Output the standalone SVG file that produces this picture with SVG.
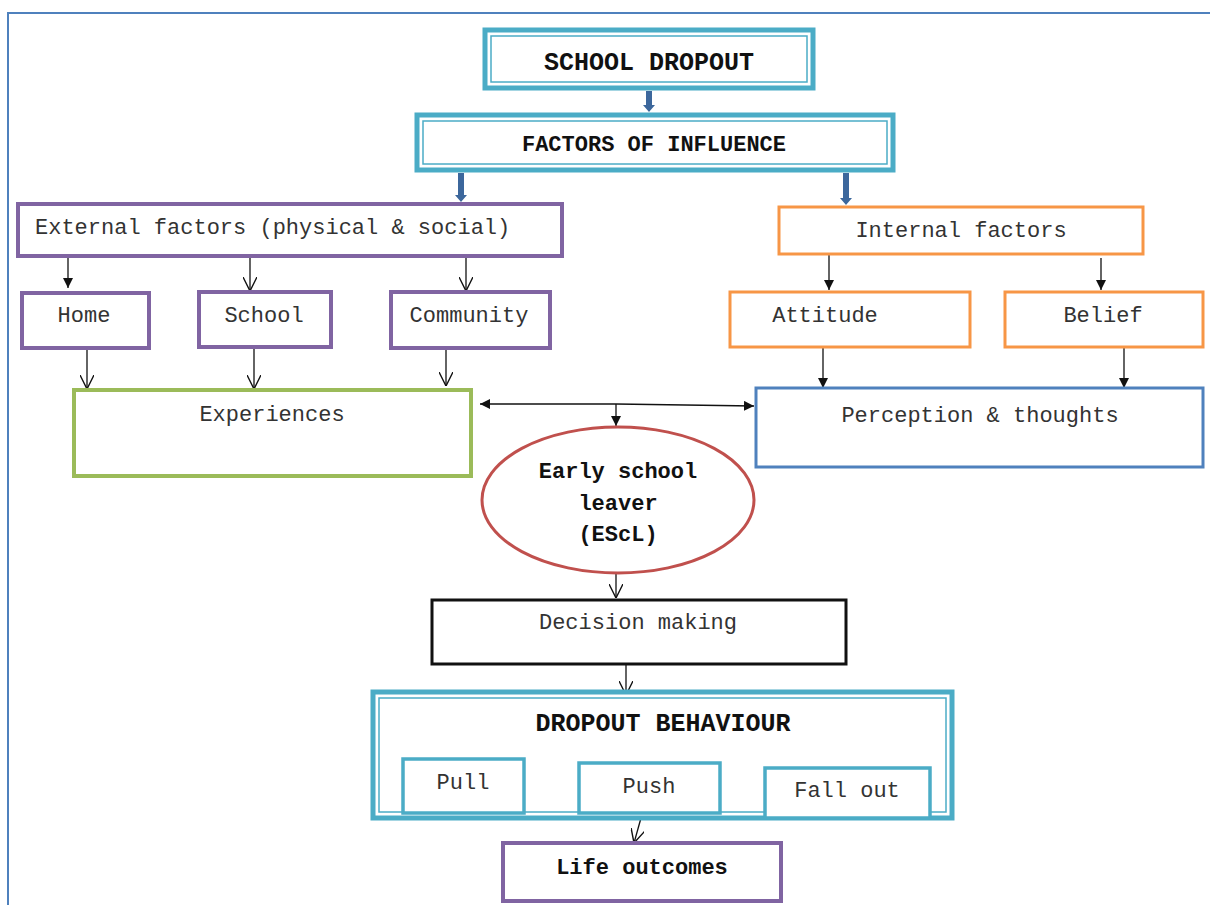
<svg xmlns="http://www.w3.org/2000/svg" width="1210" height="905" viewBox="0 0 1210 905">
<defs>
<style>
.t{font-family:"Liberation Mono","Courier New",monospace;font-size:22px;fill:#333;}
.b{font-family:"Liberation Mono","Courier New",monospace;font-size:22px;font-weight:bold;fill:#111;}
.big{font-size:25px;}
.teal{fill:#fff;stroke:#4BACC6;stroke-width:5;}
.tealin{fill:none;stroke:#4BACC6;stroke-width:1.5;}
.purple{fill:#fff;stroke:#8064A2;stroke-width:4;}
.orange{fill:#fff;stroke:#F79646;stroke-width:3;}
.green{fill:#fff;stroke:#9BBB59;stroke-width:4;}
.blue{fill:#fff;stroke:#4F81BD;stroke-width:3;}
.black{fill:#fff;stroke:#111;stroke-width:3;}
.small{fill:#fff;stroke:#4BACC6;stroke-width:3.5;}
.ln{stroke:#111;stroke-width:1.3;fill:none;}
.thick{fill:#3C679C;}
</style>
<marker id="fa" viewBox="0 0 10 10" refX="10" refY="5" markerWidth="10" markerHeight="10" markerUnits="userSpaceOnUse" orient="auto">
<path d="M0,0 L10,5 L0,10 z" fill="#111"/>
</marker>
<marker id="oa" viewBox="0 0 12 12" refX="12" refY="6" markerWidth="14" markerHeight="14" markerUnits="userSpaceOnUse" orient="auto">
<path d="M0,0 L12,6 L0,12" fill="none" stroke="#111" stroke-width="1.2"/>
</marker>
</defs>
<rect width="1210" height="905" fill="#fff"/>
<path d="M8,905 L8,13 L1210,13" fill="none" stroke="#4F81BD" stroke-width="2"/>

<g id="connectors">
<path class="thick" d="M646,91 L652,91 L652,105 L655,105 L649,112 L643,105 L646,105 z"/>
<path class="thick" d="M458,173 L464,173 L464,195 L467,195 L461,202 L455,195 L458,195 z"/>
<path class="thick" d="M843,173 L849,173 L849,198 L852,198 L846,205 L840,198 L843,198 z"/>
<line class="ln" x1="68" y1="252" x2="68" y2="288" marker-end="url(#fa)"/>
<line class="ln" x1="250" y1="258" x2="250" y2="291" marker-end="url(#oa)"/>
<line class="ln" x1="466" y1="258" x2="466" y2="291" marker-end="url(#oa)"/>
<line class="ln" x1="87" y1="346" x2="87" y2="389" marker-end="url(#oa)"/>
<line class="ln" x1="254" y1="347" x2="254" y2="389" marker-end="url(#oa)"/>
<line class="ln" x1="446" y1="343" x2="446" y2="386" marker-end="url(#oa)"/>
<line class="ln" x1="829" y1="255" x2="829" y2="290" marker-end="url(#fa)"/>
<line class="ln" x1="1101" y1="258" x2="1101" y2="290" marker-end="url(#fa)"/>
<line class="ln" x1="823" y1="347" x2="823" y2="388" marker-end="url(#fa)"/>
<line class="ln" x1="1124" y1="343" x2="1124" y2="388" marker-end="url(#fa)"/>
<line class="ln" x1="616" y1="404" x2="480" y2="404" marker-end="url(#fa)"/>
<line class="ln" x1="616" y1="404" x2="754" y2="406" marker-end="url(#fa)"/>
<line class="ln" x1="616" y1="404" x2="616" y2="426" marker-end="url(#fa)"/>
<line class="ln" x1="616" y1="574" x2="616" y2="598" marker-end="url(#oa)"/>
<line class="ln" x1="626" y1="665" x2="626" y2="695" marker-end="url(#oa)"/>
<line class="ln" x1="641" y1="818" x2="634" y2="843" marker-end="url(#oa)"/>
</g>

<g id="school-dropout">
<rect class="teal" x="485" y="30" width="328" height="58"/>
<rect class="tealin" x="491" y="36" width="316" height="46"/>
<text class="b big" x="649" y="70" text-anchor="middle">SCHOOL DROPOUT</text>
</g>
<g id="factors-of-influence">
<rect class="teal" x="417" y="115" width="476" height="55"/>
<rect class="tealin" x="423" y="121" width="464" height="43"/>
<text class="b" x="654" y="151" text-anchor="middle">FACTORS OF INFLUENCE</text>
</g>
<g id="external-factors">
<rect class="purple" x="18" y="204" width="544" height="52"/>
<text class="t" x="35" y="234">External factors (physical &amp; social)</text>
</g>
<g id="internal-factors">
<rect class="orange" x="779" y="207" width="364" height="47"/>
<text class="t" x="961" y="237" text-anchor="middle">Internal factors</text>
</g>
<g id="home">
<rect class="purple" x="22" y="293" width="127" height="55"/>
<text class="t" x="84" y="322" text-anchor="middle">Home</text>
</g>
<g id="school">
<rect class="purple" x="199" y="292" width="132" height="55"/>
<text class="t" x="264" y="322" text-anchor="middle">School</text>
</g>
<g id="community">
<rect class="purple" x="391" y="292" width="159" height="56"/>
<text class="t" x="469" y="322" text-anchor="middle">Community</text>
</g>
<g id="attitude">
<rect class="orange" x="730" y="292" width="240" height="55"/>
<text class="t" x="825" y="322" text-anchor="middle">Attitude</text>
</g>
<g id="belief">
<rect class="orange" x="1005" y="292" width="198" height="55"/>
<text class="t" x="1103" y="322" text-anchor="middle">Belief</text>
</g>
<g id="experiences">
<rect class="green" x="74" y="390" width="397" height="86"/>
<text class="t" x="272" y="421" text-anchor="middle">Experiences</text>
</g>
<g id="perception">
<rect class="blue" x="756" y="388" width="447" height="79"/>
<text class="t" x="980" y="422" text-anchor="middle">Perception &amp; thoughts</text>
</g>
<g id="escl">
<ellipse cx="618" cy="500" rx="136" ry="73" fill="#fff" stroke="#C0504D" stroke-width="3"/>
<text class="b" x="618" y="478" text-anchor="middle">Early school</text>
<text class="b" x="618" y="510" text-anchor="middle">leaver</text>
<text class="b" x="618" y="541" text-anchor="middle">(EScL)</text>
</g>
<g id="decision-making">
<rect class="black" x="432" y="600" width="414" height="64"/>
<text class="t" x="638" y="629" text-anchor="middle">Decision making</text>
</g>
<g id="dropout-behaviour">
<rect class="teal" x="373" y="692" width="579" height="126"/>
<rect class="tealin" x="379" y="698" width="567" height="114"/>
<text class="b big" x="663" y="731" text-anchor="middle">DROPOUT BEHAVIOUR</text>
</g>
<g id="pull">
<rect class="small" x="403" y="759" width="121" height="54"/>
<text class="t" x="463" y="789" text-anchor="middle">Pull</text>
</g>
<g id="push">
<rect class="small" x="579" y="763" width="141" height="50"/>
<text class="t" x="649" y="793" text-anchor="middle">Push</text>
</g>
<g id="fall-out">
<rect class="small" x="765" y="768" width="165" height="50"/>
<text class="t" x="847" y="797" text-anchor="middle">Fall out</text>
</g>
<g id="life-outcomes">
<rect class="purple" x="503" y="843" width="278" height="58"/>
<text class="b" x="642" y="874" text-anchor="middle">Life outcomes</text>
</g>
</svg>
